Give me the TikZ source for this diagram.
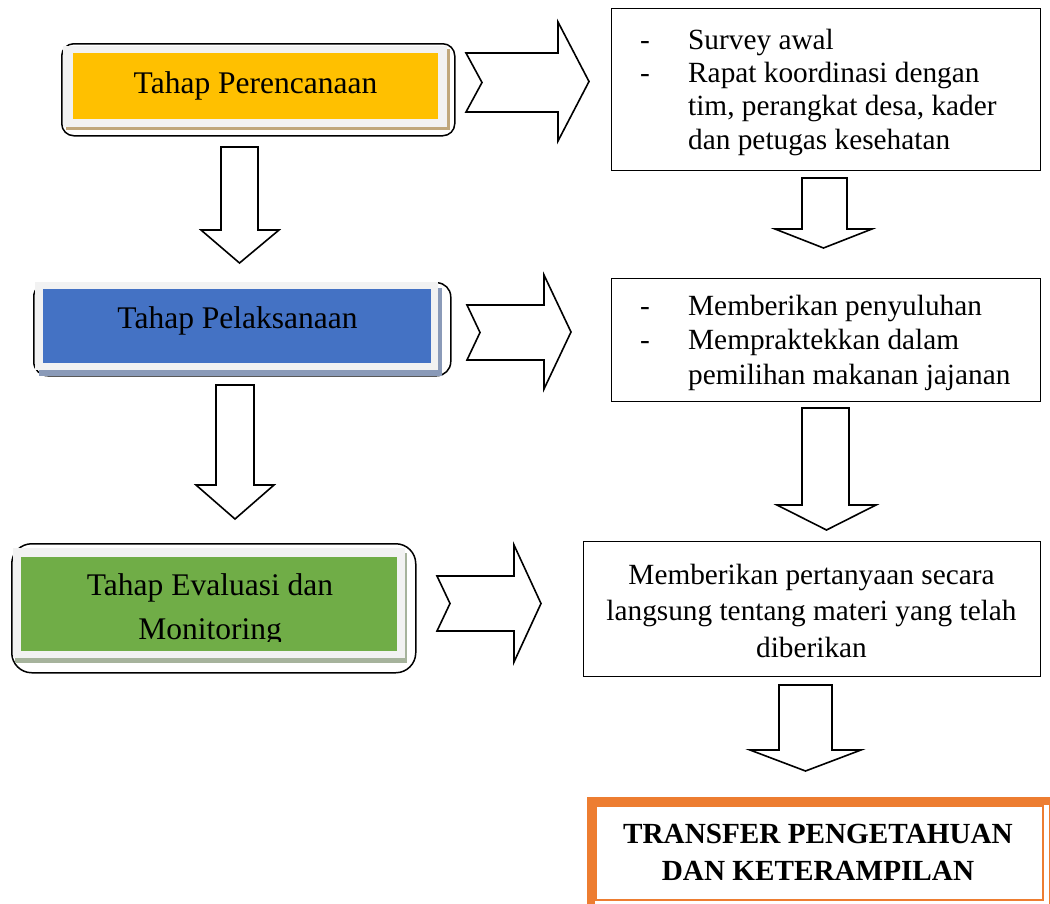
\documentclass[tikz,border=0pt]{standalone}
\usepackage{fontspec}
\setmainfont{Liberation Serif}
\definecolor{cyellow}{HTML}{FFC000}
\definecolor{cblue}{HTML}{4472C4}
\definecolor{cgreen}{HTML}{70AD47}
\definecolor{corange}{HTML}{ED7D31}
\definecolor{cgray}{HTML}{F2F2F2}
\definecolor{shtan}{HTML}{C0A77C}
\definecolor{shblue}{HTML}{8A9AB8}
\definecolor{shgreen}{HTML}{A6B39C}
\begin{document}
\begin{tikzpicture}[x=1pt,y=-1pt,
  outerbox/.style={draw=black, line width=1.5pt, inner sep=0pt, anchor=north west},
  plainbox/.style={draw=black, line width=1.3pt, inner sep=0pt, anchor=north west, fill=white},
  fillbox/.style={inner sep=0pt, anchor=north west, draw=none},
  lbl/.style={font=\fontsize{31.5}{36}\selectfont, inner sep=0pt, anchor=base},
  rt/.style={font=\fontsize{29.3}{34}\selectfont, inner sep=0pt, anchor=base west},
  rc/.style={font=\fontsize{29.3}{34}\selectfont, inner sep=0pt, anchor=base},
  bt/.style={font=\fontsize{29.2}{34}\selectfont\bfseries, inner sep=0pt, anchor=base},
  blk/.style={draw=black, line width=1.6pt, fill=white, line join=miter}
]
\useasboundingbox (0,0) rectangle (1050,903);

% ---------- Left box 1: Perencanaan ----------
\node[outerbox, rounded corners=12pt, minimum width=393pt, minimum height=92pt] (p1) at (61,43) {};
\node[fillbox, fill=shtan, minimum width=384pt, minimum height=81pt] (p1s) at (66,49) {};
\node[fillbox, fill=cgray, minimum width=384pt, minimum height=81pt] (p1g) at (63,46) {};
\node[fillbox, fill=cyellow, minimum width=365pt, minimum height=66pt] (p1c) at (73,53) {};
\node[lbl] (p1t) at (255.5,93) {Tahap Perencanaan};

% ---------- Left box 2: Pelaksanaan ----------
\node[outerbox, rounded corners=14pt, minimum width=417pt, minimum height=93pt] (p2) at (33,282) {};
\node[fillbox, fill=shblue, minimum width=403pt, minimum height=88pt] (p2s) at (39,288) {};
\node[fillbox, fill=cgray, minimum width=403pt, minimum height=88pt] (p2g) at (35,282) {};
\node[fillbox, fill=cblue, minimum width=388pt, minimum height=74pt] (p2c) at (43,289) {};
\node[lbl] (p2t) at (237.5,328) {Tahap Pelaksanaan};

% ---------- Left box 3: Evaluasi ----------
\node[outerbox, rounded corners=20pt, minimum width=404pt, minimum height=129pt] (p3) at (11,543) {};
\node[fillbox, fill=shgreen, minimum width=392pt, minimum height=110pt] (p3s) at (15,553) {};
\node[fillbox, fill=cgray, minimum width=392pt, minimum height=110pt] (p3g) at (13,548) {};
\node[fillbox, fill=cgreen, minimum width=376pt, minimum height=94pt] (p3c) at (21,557) {};
\begin{scope}
\clip (0,0) rectangle (1050,641);
\node[lbl] (p3t) at (210,595) {Tahap Evaluasi dan};
\node[lbl] (p3u) at (210,639) {Monitoring};
\end{scope}

% ---------- Right boxes ----------
\node[plainbox, minimum width=429pt, minimum height=162pt] (r1) at (611,8) {};
\node[rt] (r1a) at (640,49) {\makebox[48pt][l]{-}Survey awal};
\node[rt] (r1b) at (640,82) {\makebox[48pt][l]{-}Rapat koordinasi dengan};
\node[rt] (r1c) at (688,115) {tim, perangkat desa, kader};
\node[rt] (r1d) at (688,149) {dan petugas kesehatan};

\node[plainbox, minimum width=429pt, minimum height=123pt] (r2) at (611,278) {};
\node[rt] (r2a) at (640,315) {\makebox[48pt][l]{-}Memberikan penyuluhan};
\node[rt] (r2b) at (640,349) {\makebox[48pt][l]{-}Mempraktekkan dalam};
\node[rt] (r2c) at (688,384) {pemilihan makanan jajanan};

\node[plainbox, minimum width=457pt, minimum height=135pt] (r3) at (583,541) {};
\node[rc] (r3a) at (811.5,584) {Memberikan pertanyaan secara};
\node[rc] (r3b) at (811.5,620) {langsung tentang materi yang telah};
\node[rc] (r3c) at (811.5,657) {diberikan};

% ---------- Final box ----------
\node[fillbox, draw=corange, line width=8pt, minimum width=462pt, minimum height=108pt] (f) at (587,797) {};
\node[fillbox, draw=corange, line width=2.7pt, minimum width=447pt, minimum height=94pt] (fi) at (594.7,804.7) {};
\node[bt] (fa) at (818,843) {TRANSFER PENGETAHUAN};
\node[bt] (fb) at (818,880) {DAN KETERAMPILAN};

% ---------- Right-pointing notched arrows ----------
\draw[blk] (466,53) -- (558,53) -- (558,22) -- (589,81.5) -- (558,141) -- (558,112) -- (466,112) -- (482,82.5) -- cycle;
\draw[blk] (467,305) -- (544,305) -- (544,275) -- (571,332) -- (544,389) -- (544,360) -- (467,360) -- (480,332.5) -- cycle;
\draw[blk] (437,576) -- (514,576) -- (514,545) -- (541,603.5) -- (514,662) -- (514,631) -- (437,631) -- (450,603.5) -- cycle;

% ---------- Down arrows ----------
\draw[blk] (221,147) -- (258,147) -- (258,230) -- (279,230) -- (239.5,263) -- (201,230) -- (221,230) -- cycle;
\draw[blk] (216,385) -- (254,385) -- (254,485) -- (274,485) -- (235,519) -- (196,485) -- (216,485) -- cycle;
\draw[blk] (802,178) -- (847,178) -- (847,229) -- (872,229) -- (823.5,248) -- (775,229) -- (802,229) -- cycle;
\draw[blk] (802,408) -- (849,408) -- (849,505) -- (876,505) -- (826.5,530) -- (777,505) -- (802,505) -- cycle;
\draw[blk] (779,685) -- (832,685) -- (832,750) -- (861,750) -- (805.5,771) -- (750,750) -- (779,750) -- cycle;
\end{tikzpicture}
\end{document}
